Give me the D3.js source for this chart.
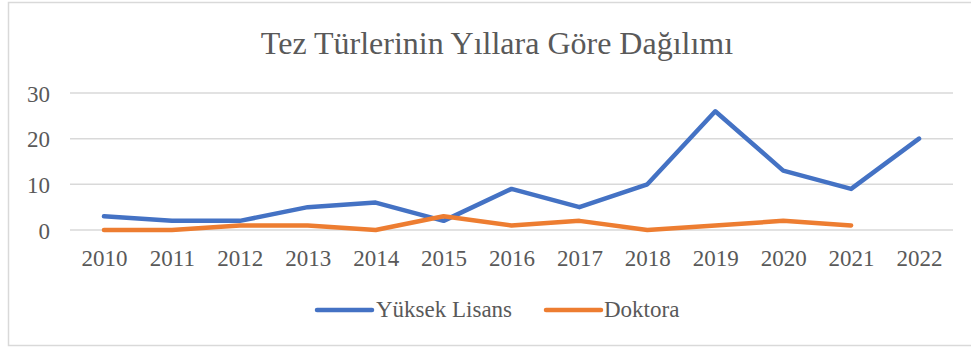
<!DOCTYPE html>
<html>
<head>
<meta charset="utf-8">
<script src="https://cdn.jsdelivr.net/npm/d3@7"></script>
<style>
  html, body { margin: 0; padding: 0; background: #fff; }
  svg { display: block; }
</style>
</head>
<body>
<svg id="chart" width="971" height="347"></svg>
<script>
// Thesis counts per year, by thesis type
const years = ["2010","2011","2012","2013","2014","2015","2016","2017","2018","2019","2020","2021","2022"];
const yuksekLisans = [3, 2, 2, 5, 6, 2, 9, 5, 10, 26, 13, 9, 20];
const doktora = [0, 0, 1, 1, 0, 3, 1, 2, 0, 1, 2, 1, null];
const yTicks = [0, 10, 20, 30];
const seriesNames = ["Yüksek Lisans", "Doktora"];
const seriesColors = ["#4472C4", "#ED7D31"];

const svg = d3.select("#chart");
const font = "'Liberation Serif', 'Times New Roman', serif";
const textColor = "#595959";

// chart frame
svg.append("rect")
  .attr("x", 8.5).attr("y", 2.5)
  .attr("width", 975).attr("height", 343)
  .attr("fill", "#fff")
  .attr("stroke", "#D9D9D9").attr("stroke-width", 1.5);

// title
svg.append("text")
  .attr("x", 497).attr("y", 54)
  .attr("text-anchor", "middle")
  .attr("font-family", font).attr("font-size", 32)
  .attr("fill", textColor)
  .text("Tez Türlerinin Yıllara Göre Dağılımı");

const plot = { left: 70, right: 953, top: 93, bottom: 230 };

const x = d3.scalePoint().domain(years).range([plot.left, plot.right]).padding(0.5);
const y = d3.scaleLinear().domain([0, 30]).range([plot.bottom, plot.top]);

// horizontal gridlines
svg.append("g")
  .selectAll("line")
  .data(yTicks)
  .join("line")
  .attr("x1", plot.left).attr("x2", plot.right)
  .attr("y1", d => y(d)).attr("y2", d => y(d))
  .attr("stroke", "#D9D9D9").attr("stroke-width", 1.5);

// y axis labels
const yAxis = d3.axisLeft(y).tickValues(yTicks).tickSize(0).tickPadding(0);
const gy = svg.append("g").attr("transform", "translate(50,0)").call(yAxis);
gy.select(".domain").remove();
gy.selectAll("text")
  .attr("font-family", font).attr("font-size", 23)
  .attr("fill", textColor).attr("dy", "0.35em");

// x axis labels
const xAxis = d3.axisBottom(x).tickSize(0).tickPadding(0);
const gx = svg.append("g").attr("transform", `translate(0,${plot.bottom})`).call(xAxis);
gx.select(".domain").remove();
gx.selectAll("text")
  .attr("font-family", font).attr("font-size", 23)
  .attr("fill", textColor).attr("dy", null).attr("y", 36);

// series lines
const line = d3.line()
  .defined(d => d.v !== null)
  .x(d => x(d.year))
  .y(d => y(d.v));

[yuksekLisans, doktora].forEach((vals, i) => {
  const pts = years.map((yr, j) => ({ year: yr, v: vals[j] }));
  svg.append("path")
    .datum(pts)
    .attr("d", line)
    .attr("fill", "none")
    .attr("stroke", seriesColors[i])
    .attr("stroke-width", 4.5)
    .attr("stroke-linecap", "round")
    .attr("stroke-linejoin", "round");
});

// legend
const legendItems = [
  { x1: 317, x2: 372, tx: 376 },
  { x1: 546, x2: 601, tx: 604 }
];
legendItems.forEach((it, i) => {
  svg.append("line")
    .attr("x1", it.x1).attr("x2", it.x2)
    .attr("y1", 310).attr("y2", 310)
    .attr("stroke", seriesColors[i]).attr("stroke-width", 4.5)
    .attr("stroke-linecap", "round");
  svg.append("text")
    .attr("x", it.tx).attr("y", 317)
    .attr("font-family", font).attr("font-size", 23)
    .attr("fill", textColor)
    .text(seriesNames[i]);
});
</script>
</body>
</html>
